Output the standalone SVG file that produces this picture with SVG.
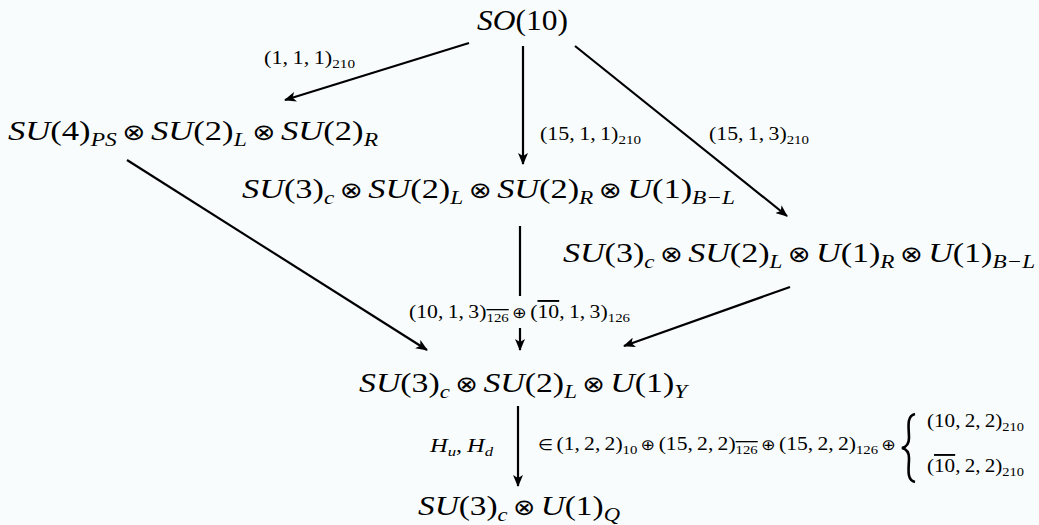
<svg xmlns="http://www.w3.org/2000/svg" width="1039" height="525" viewBox="0 0 1039 525">
<defs>
<style>
.m{font-family:"Liberation Serif","DejaVu Serif",serif;fill:#000}
.i{font-style:italic}
.n{font-size:28px}
.l{font-size:19px}
.o{font-family:"DejaVu Sans",sans-serif;font-size:0.8em}
.e{stroke:#000;stroke-width:2.2;fill:none}
.ov{text-decoration:overline}
</style>
<marker id="ah" viewBox="0 0 12 10" refX="11" refY="5" markerWidth="12" markerHeight="10" markerUnits="userSpaceOnUse" orient="auto">
<path d="M0,0 L12,5 L0,10 L3,5 Z" fill="#000"/>
</marker>
</defs>
<rect width="1039" height="525" fill="#f8fcfc"/>
<g id="connectors">
<line class="e" x1="469" y1="43" x2="285" y2="100" marker-end="url(#ah)"/>
<line class="e" x1="523" y1="46" x2="523" y2="164" marker-end="url(#ah)"/>
<line class="e" x1="575" y1="46" x2="787" y2="216" marker-end="url(#ah)"/>
<line class="e" x1="127" y1="160" x2="427" y2="350" marker-end="url(#ah)"/>
<line class="e" x1="520" y1="226" x2="520" y2="296"/>
<line class="e" x1="520" y1="328" x2="520" y2="350" marker-end="url(#ah)"/>
<line class="e" x1="790" y1="287" x2="624" y2="346" marker-end="url(#ah)"/>
<line class="e" x1="518" y1="406" x2="518" y2="486" marker-end="url(#ah)"/>
<text class="m l" x="264" y="64" textLength="91" lengthAdjust="spacingAndGlyphs"><tspan>(1,&#8201;1,&#8201;1)</tspan><tspan font-size="13" dy="4">210</tspan></text>
<text class="m l" x="540" y="140" textLength="101" lengthAdjust="spacingAndGlyphs"><tspan>(15,&#8201;1,&#8201;1)</tspan><tspan font-size="13" dy="4">210</tspan></text>
<text class="m l" x="709" y="140" textLength="100" lengthAdjust="spacingAndGlyphs"><tspan>(15,&#8201;1,&#8201;3)</tspan><tspan font-size="13" dy="4">210</tspan></text>
<text class="m l" x="409" y="318" textLength="221" lengthAdjust="spacingAndGlyphs"><tspan>(10,&#8201;1,&#8201;3)</tspan><tspan font-size="13" dy="4" class="ov">126</tspan><tspan dy="-4" class="o">&#8201;⊕&#8201;</tspan><tspan>(</tspan><tspan class="ov">10</tspan><tspan>,&#8201;1,&#8201;3)</tspan><tspan font-size="13" dy="4">126</tspan></text>
<text class="m l" x="430" y="452" textLength="63" lengthAdjust="spacingAndGlyphs"><tspan class="i">H</tspan><tspan font-size="13" dy="4" class="i">u</tspan><tspan dy="-4">,&#8201;</tspan><tspan class="i">H</tspan><tspan font-size="13" dy="4" class="i">d</tspan></text>
<text class="m l" x="538" y="450" textLength="358" lengthAdjust="spacingAndGlyphs"><tspan class="o">∈&#8201;</tspan><tspan>(1,&#8201;2,&#8201;2)</tspan><tspan font-size="13" dy="4">10</tspan><tspan dy="-4" class="o">&#8201;⊕&#8201;</tspan><tspan>(15,&#8201;2,&#8201;2)</tspan><tspan font-size="13" dy="4" class="ov">126</tspan><tspan dy="-4" class="o">&#8201;⊕&#8201;</tspan><tspan>(15,&#8201;2,&#8201;2)</tspan><tspan font-size="13" dy="4">126</tspan><tspan dy="-4" class="o">&#8201;⊕</tspan></text>
<path d="M915,414 C906,416 909,428 909,438 C909,444 906,447 902,448 C906,449 909,452 909,458 C909,468 906,480 915,482" fill="none" stroke="#000" stroke-width="2.6"/>
<text class="m l" x="927" y="427" textLength="97" lengthAdjust="spacingAndGlyphs"><tspan>(10,&#8201;2,&#8201;2)</tspan><tspan font-size="13" dy="4">210</tspan></text>
<text class="m l" x="927" y="472" textLength="97" lengthAdjust="spacingAndGlyphs"><tspan>(</tspan><tspan class="ov">10</tspan><tspan>,&#8201;2,&#8201;2)</tspan><tspan font-size="13" dy="4">210</tspan></text>
</g>
<g id="n-so10">
<text class="m" x="477" y="30" font-size="29" textLength="91" lengthAdjust="spacingAndGlyphs"><tspan class="i">SO</tspan><tspan>(10)</tspan></text>
</g>
<g id="n-ps">
<text class="m n" x="8" y="140" textLength="370" lengthAdjust="spacingAndGlyphs"><tspan class="i">SU</tspan><tspan>(4)</tspan><tspan class="i" font-size="19" dy="6">PS</tspan><tspan dy="-6" class="o">&#8201;⊗&#8201;</tspan><tspan class="i">SU</tspan><tspan>(2)</tspan><tspan class="i" font-size="19" dy="6">L</tspan><tspan dy="-6" class="o">&#8201;⊗&#8201;</tspan><tspan class="i">SU</tspan><tspan>(2)</tspan><tspan class="i" font-size="19" dy="6">R</tspan></text>
</g>
<g id="n-lr">
<text class="m n" x="242" y="198" textLength="493" lengthAdjust="spacingAndGlyphs"><tspan class="i">SU</tspan><tspan>(3)</tspan><tspan class="i" font-size="19" dy="6">c</tspan><tspan dy="-6" class="o">&#8201;⊗&#8201;</tspan><tspan class="i">SU</tspan><tspan>(2)</tspan><tspan class="i" font-size="19" dy="6">L</tspan><tspan dy="-6" class="o">&#8201;⊗&#8201;</tspan><tspan class="i">SU</tspan><tspan>(2)</tspan><tspan class="i" font-size="19" dy="6">R</tspan><tspan dy="-6" class="o">&#8201;⊗&#8201;</tspan><tspan class="i">U</tspan><tspan>(1)</tspan><tspan class="i" font-size="19" dy="6">B−L</tspan></text>
</g>
<g id="n-u1r">
<text class="m n" x="563" y="262" textLength="472" lengthAdjust="spacingAndGlyphs"><tspan class="i">SU</tspan><tspan>(3)</tspan><tspan class="i" font-size="19" dy="6">c</tspan><tspan dy="-6" class="o">&#8201;⊗&#8201;</tspan><tspan class="i">SU</tspan><tspan>(2)</tspan><tspan class="i" font-size="19" dy="6">L</tspan><tspan dy="-6" class="o">&#8201;⊗&#8201;</tspan><tspan class="i">U</tspan><tspan>(1)</tspan><tspan class="i" font-size="19" dy="6">R</tspan><tspan dy="-6" class="o">&#8201;⊗&#8201;</tspan><tspan class="i">U</tspan><tspan>(1)</tspan><tspan class="i" font-size="19" dy="6">B−L</tspan></text>
</g>
<g id="n-sm">
<text class="m n" x="359" y="392" textLength="328" lengthAdjust="spacingAndGlyphs"><tspan class="i">SU</tspan><tspan>(3)</tspan><tspan class="i" font-size="19" dy="6">c</tspan><tspan dy="-6" class="o">&#8201;⊗&#8201;</tspan><tspan class="i">SU</tspan><tspan>(2)</tspan><tspan class="i" font-size="19" dy="6">L</tspan><tspan dy="-6" class="o">&#8201;⊗&#8201;</tspan><tspan class="i">U</tspan><tspan>(1)</tspan><tspan class="i" font-size="19" dy="6">Y</tspan></text>
</g>
<g id="n-em">
<text class="m n" x="418" y="515" textLength="202" lengthAdjust="spacingAndGlyphs"><tspan class="i">SU</tspan><tspan>(3)</tspan><tspan class="i" font-size="19" dy="6">c</tspan><tspan dy="-6" class="o">&#8201;⊗&#8201;</tspan><tspan class="i">U</tspan><tspan>(1)</tspan><tspan class="i" font-size="19" dy="6">Q</tspan></text>
</g>
</svg>
